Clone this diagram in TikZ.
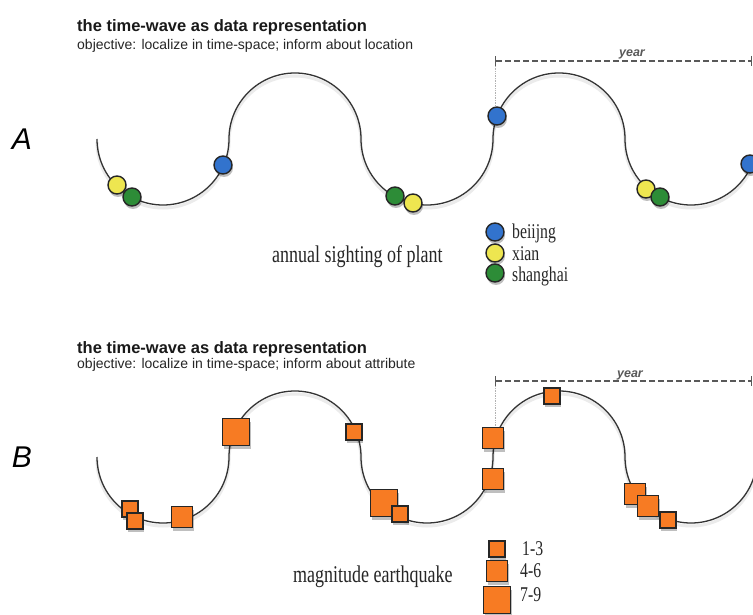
\documentclass[tikz,border=0pt]{standalone}
\usepackage{fontspec}
\setmainfont{Liberation Serif}[FakeStretch=0.75]
\newfontfamily\headfont{Liberation Sans}
\usetikzlibrary{arrows.meta}

\definecolor{beijingblue}{RGB}{50,115,205}
\definecolor{xianyellow}{RGB}{238,230,80}
\definecolor{shanghaigreen}{RGB}{45,140,55}
\definecolor{quakeorange}{RGB}{247,123,35}

\tikzset{
  timewave/.style={insert path={
    arc[start angle=180, end angle=0, radius=66]
    arc[start angle=180, end angle=360, radius=66]
    arc[start angle=180, end angle=0, radius=66]
    arc[start angle=180, end angle=360, radius=66]
    arc[start angle=180, end angle=0, radius=66]}},
  wave/.style={line width=1.3pt, black!80},
  waveshade/.style={line width=3pt, black!8, yshift=-3pt},
  marker/.style={draw=black!85, line width=1.4pt, inner sep=0pt,
    preaction={fill=black, fill opacity=0.25, draw opacity=0,
      transform canvas={shift={(1pt,-3pt)}}}},
  city/.style={marker, circle, minimum size=18pt},
  quake/.style={marker, rectangle, fill=quakeorange},
  mag1/.style={quake, minimum size=16pt},
  mag2/.style={quake, minimum size=21pt},
  mag3/.style={quake, minimum size=27pt},
  yearline/.style={dash pattern=on 6pt off 3pt, line width=1.4pt, black!65,
    {Bar[width=10pt]}-{Bar[width=10pt]}},
  yearlabel/.style={font=\headfont\bfseries\itshape\fontsize{12.5}{14}\selectfont,
    black!65, anchor=base, inner sep=0pt},
  guide/.style={densely dotted, black!30, line width=0.7pt},
  heading/.style={font=\headfont\bfseries\fontsize{16.5}{18}\selectfont,
    anchor=base west, inner sep=0pt, black!90},
  subheading/.style={font=\headfont\fontsize{14}{16}\selectfont,
    anchor=base west, inner sep=0pt, black!85},
  panel/.style={font=\headfont\itshape\fontsize{30}{32}\selectfont, inner sep=0pt},
  caption/.style={font=\fontsize{24}{26}\selectfont, anchor=base west,
    inner sep=0pt, black!85},
  keytext/.style={caption, font=\fontsize{21}{22}\selectfont},
}

\begin{document}
\begin{tikzpicture}[x=1pt, y=-1pt]
  \useasboundingbox[fill=white] (0,0) rectangle (753,615);
  \clip (0,0) rectangle (753,615);

  % --- A: location ---
  \node[heading] (titleA) at (77,32) {the time-wave as data representation};
  \node[subheading] (subA) at (77,50) {objective: localize in time-space; inform about location};
  \node[panel] (labA) at (22,139) {A};

  \draw[waveshade] (97,139) [timewave];
  \draw[wave] (97,139) [timewave];

  \node[city, fill=xianyellow] (xianA1) at (117,185) {};
  \node[city, fill=shanghaigreen] (shanA1) at (132,197) {};
  \node[city, fill=beijingblue] (beiA1) at (223,165) {};
  \node[city, fill=shanghaigreen] (shanA2) at (395,196) {};
  \node[city, fill=xianyellow] (xianA2) at (413,203) {};
  \node[city, fill=beijingblue] (beiA2) at (497,116) {};
  \node[city, fill=xianyellow] (xianA3) at (646,189) {};
  \node[city, fill=shanghaigreen] (shanA3) at (660,197) {};
  \node[city, fill=beijingblue] (beiA3) at (750,164) {};

  \coordinate (yrA0) at (495,61);
  \coordinate (yrA1) at (752,61);
  \draw[guide] (yrA0) -- (yrA0 |- beiA2.north);
  \draw[yearline] (yrA0) -- (yrA1);
  \node[yearlabel] (yrAtxt) at (632,57) {year};

  \node[caption] (capA) at (272,262) {annual sighting of plant};
  \node[city, fill=beijingblue] (keybei) at (495,232) {};
  \node[city, fill=xianyellow] (keyxian) at (495,253) {};
  \node[city, fill=shanghaigreen] (keyshan) at (495,273) {};
  \node[keytext] (txtbei) at (512,238) {beiijng};
  \node[keytext] (txtxian) at (512,260) {xian};
  \node[keytext] (txtshan) at (512,281) {shanghai};

  % --- B: attribute ---
  \node[heading] (titleB) at (77,353) {the time-wave as data representation};
  \node[subheading] (subB) at (77,368) {objective: localize in time-space; inform about attribute};
  \node[panel] (labB) at (22,457) {B};

  \draw[waveshade] (97,457) [timewave];
  \draw[wave] (97,457) [timewave];

  \node[mag1] (qB1) at (130,509) {};
  \node[mag1] (qB2) at (135,521) {};
  \node[mag2] (qB3) at (182,517) {};
  \node[mag3] (qB4) at (236,432) {};
  \node[mag1] (qB5) at (354,432) {};
  \node[mag3] (qB6) at (384,503) {};
  \node[mag1] (qB7) at (400,514) {};
  \node[mag1] (qB8) at (552,396) {};
  \node[mag2] (qB9) at (493,438) {};
  \node[mag2] (qB10) at (493,479) {};
  \node[mag2] (qB11) at (635,494) {};
  \node[mag2] (qB12) at (648,506) {};
  \node[mag1] (qB13) at (668,520) {};

  \coordinate (yrB0) at (495,381);
  \coordinate (yrB1) at (752,381);
  \draw[guide] (yrB0) -- (yrB0 |- qB9.north);
  \draw[yearline] (yrB0) -- (yrB1);
  \node[yearlabel] (yrBtxt) at (630,377) {year};

  \node[caption] (capB) at (293,582) {magnitude earthquake};
  \node[mag1] (keym1) at (497,549) {};
  \node[mag2] (keym2) at (497,571) {};
  \node[mag3] (keym3) at (497,600) {};
  \node[keytext] (txtm1) at (522,555) {1-3};
  \node[keytext] (txtm2) at (520,577) {4-6};
  \node[keytext] (txtm3) at (520,601) {7-9};
\end{tikzpicture}
\end{document}
